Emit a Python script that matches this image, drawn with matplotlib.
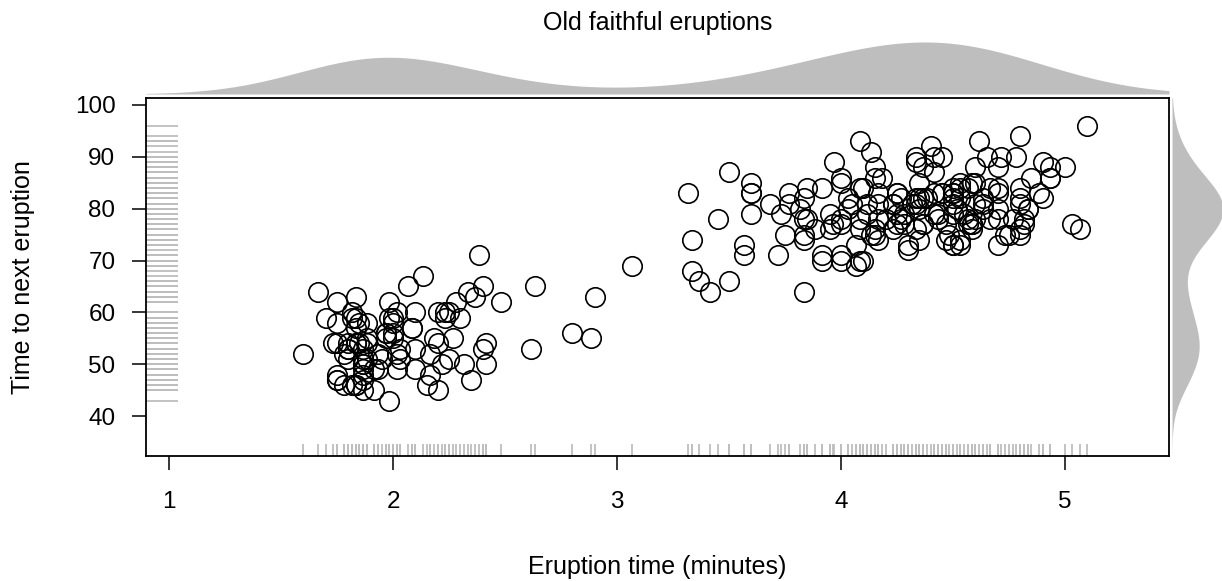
import numpy as np
import matplotlib
matplotlib.use("Agg")
import matplotlib.pyplot as plt

# Old Faithful: eruption length (min) and waiting time to next eruption (min)
eruptions = [
    3.600, 1.800, 3.333, 2.283, 4.533, 2.883, 4.700, 3.600, 1.950, 4.350,
    1.833, 3.917, 4.200, 1.750, 4.700, 2.167, 1.750, 4.800, 1.600, 4.250,
    1.800, 1.750, 3.450, 3.067, 4.533, 3.600, 1.967, 4.083, 3.850, 4.433,
    4.300, 4.467, 3.367, 4.033, 3.833, 2.017, 1.867, 4.833, 1.833, 4.783,
    4.350, 1.883, 4.567, 1.750, 4.533, 3.317, 3.833, 2.100, 4.633, 2.000,
    4.800, 4.716, 1.833, 4.833, 1.733, 4.883, 3.717, 1.667, 4.567, 4.317,
    2.233, 4.500, 1.750, 4.800, 1.817, 4.400, 4.167, 4.700, 2.067, 4.700,
    4.033, 1.967, 4.500, 4.000, 1.983, 5.067, 2.017, 4.567, 3.883, 3.600,
    4.133, 4.333, 4.100, 2.633, 4.067, 4.933, 3.950, 4.517, 2.167, 4.000,
    2.200, 4.333, 1.867, 4.817, 1.833, 4.300, 4.667, 3.750, 1.867, 4.900,
    2.483, 4.367, 2.100, 4.500, 4.050, 1.867, 4.700, 1.783, 4.850, 3.683,
    4.733, 2.300, 4.900, 4.417, 1.700, 4.633, 2.317, 4.600, 1.817, 4.417,
    2.617, 4.067, 4.250, 1.967, 4.600, 3.767, 1.917, 4.500, 2.267, 4.650,
    1.867, 4.167, 2.800, 4.333, 1.833, 4.383, 1.883, 4.933, 2.033, 3.733,
    4.233, 2.233, 4.533, 4.817, 4.333, 1.983, 4.633, 2.017, 5.100, 1.800,
    5.033, 4.000, 2.400, 4.600, 3.567, 4.000, 4.500, 4.083, 1.800, 3.967,
    2.200, 4.150, 2.000, 3.833, 3.500, 4.583, 2.367, 5.000, 1.933, 4.617,
    1.917, 2.083, 4.583, 3.333, 4.167, 4.333, 4.500, 2.417, 4.000, 4.167,
    1.883, 4.583, 4.250, 3.767, 2.033, 4.433, 4.083, 1.833, 4.417, 2.183,
    4.800, 1.833, 4.800, 4.100, 3.966, 4.233, 3.500, 4.366, 2.250, 4.667,
    2.100, 4.350, 4.133, 1.867, 4.600, 1.783, 4.367, 3.850, 1.933, 4.500,
    2.383, 4.700, 1.867, 3.833, 3.417, 4.233, 2.400, 4.800, 2.000, 4.150,
    1.867, 4.267, 1.750, 4.483, 4.000, 4.117, 4.083, 4.267, 3.917, 4.550,
    4.083, 2.417, 4.183, 2.217, 4.450, 1.883, 1.850, 4.283, 3.950, 2.333,
    4.150, 2.350, 4.933, 2.900, 4.583, 3.833, 2.083, 4.367, 2.133, 4.350,
    2.200, 4.450, 3.567, 4.500, 4.150, 3.817, 3.917, 4.450, 2.000, 4.283,
    4.767, 4.533, 1.850, 4.250, 1.983, 2.250, 4.750, 4.117, 2.150, 4.417,
    1.817, 4.467,
]
waiting = [
    79, 54, 74, 62, 85, 55, 88, 85, 51, 85, 54, 84, 78, 47, 83, 52, 62, 84, 52, 79,
    51, 47, 78, 69, 74, 83, 55, 76, 78, 79, 73, 77, 66, 80, 74, 52, 48, 80, 59, 90,
    80, 58, 84, 58, 73, 83, 64, 53, 82, 59, 75, 90, 54, 80, 54, 83, 71, 64, 77, 81,
    59, 84, 48, 82, 60, 92, 78, 78, 65, 73, 82, 56, 79, 71, 62, 76, 60, 78, 76, 83,
    75, 82, 70, 65, 73, 88, 76, 80, 48, 86, 60, 90, 50, 78, 63, 72, 84, 75, 51, 82,
    62, 88, 49, 83, 81, 47, 84, 52, 86, 81, 75, 59, 89, 79, 59, 81, 50, 85, 59, 87,
    53, 69, 77, 56, 88, 81, 45, 82, 55, 90, 45, 83, 56, 89, 46, 82, 51, 86, 53, 79,
    81, 60, 82, 77, 76, 59, 80, 49, 96, 53, 77, 77, 65, 81, 71, 70, 81, 93, 53, 89,
    45, 86, 58, 78, 66, 76, 63, 88, 52, 93, 49, 57, 77, 68, 81, 81, 73, 50, 85, 74,
    55, 77, 83, 83, 51, 78, 84, 46, 83, 55, 81, 57, 76, 84, 77, 81, 87, 77, 51, 78,
    60, 82, 91, 53, 78, 46, 77, 84, 49, 83, 71, 80, 49, 75, 64, 76, 53, 94, 55, 76,
    50, 82, 54, 75, 78, 79, 78, 78, 70, 79, 70, 54, 86, 50, 90, 54, 54, 77, 79, 64,
    75, 47, 86, 63, 85, 82, 57, 82, 67, 74, 54, 83, 73, 73, 88, 80, 71, 83, 56, 79,
    78, 84, 58, 83, 43, 60, 75, 81, 46, 90, 46, 74,
]
x_ticks = [1, 2, 3, 4, 5]
y_ticks = [40, 50, 60, 70, 80, 90, 100]

erupt = np.array(eruptions)
wait = np.array(waiting, dtype=float)

plt.rcParams['font.family'] = ['Liberation Sans', 'DejaVu Sans']
GREY = '#BEBEBE'
W, H = 1222, 581


def kde(data, grid):
    # gaussian kernel, R's bw.nrd0 rule
    n = len(data)
    q75, q25 = np.percentile(data, [75, 25])
    bw = 0.9 * min(data.std(ddof=1), (q75 - q25) / 1.34) * n ** -0.2
    z = (grid[:, None] - data[None, :]) / bw
    return np.exp(-0.5 * z ** 2).sum(axis=1) / (n * bw * np.sqrt(2 * np.pi))


def rect(x0, y0, x1, y1):
    # pixel box -> figure fraction
    return [x0 / W, 1 - y1 / H, (x1 - x0) / W, (y1 - y0) / H]


fig = plt.figure(figsize=(W / 100, H / 100), dpi=100)
ax = fig.add_axes(rect(146, 98, 1169, 456))
xlim = (0.897, 5.464)
ylim = (32.3, 101.35)

ax.plot(erupt, wait, 'o', mfc='none', mec='black', ms=14, mew=1.2, zorder=3)
ax.hlines(wait, 0, 0.031, transform=ax.get_yaxis_transform(), color=GREY, lw=1.3)
ax.vlines(erupt, 0, 0.034, transform=ax.get_xaxis_transform(), color=GREY, lw=1.3)

ax.set_xlim(xlim)
ax.set_ylim(ylim)
ax.set_xticks(x_ticks)
ax.set_yticks(y_ticks)
for s in ax.spines.values():
    s.set_linewidth(1.3)
ax.tick_params(direction='out', length=10, width=1.1, labelsize=17.5)
ax.tick_params(axis='x', pad=15)
ax.tick_params(axis='y', pad=12)

# marginal density along the top
gx = np.linspace(xlim[0], xlim[1], 500)
dx = kde(erupt, gx)
axt = fig.add_axes(rect(146, 30, 1169, 94))
axt.fill_between(gx, dx, color=GREY, lw=0)
axt.set_xlim(xlim)
axt.set_ylim(0, dx.max() * 64 / 52)
axt.axis('off')

# marginal density on the right
gy = np.linspace(ylim[0], ylim[1], 500)
dy = kde(wait, gy)
axr = fig.add_axes(rect(1172, 98, 1224, 456))
axr.fill_betweenx(gy, dy, color=GREY, lw=0)
axr.set_ylim(ylim)
axr.set_xlim(0, dy.max() * 52 / 51)
axr.axis('off')

fig.text(657.5 / W, 1 - 23 / H, 'Old faithful eruptions', ha='center', va='center', fontsize=18)
fig.text(657.5 / W, 1 - 567 / H, 'Eruption time (minutes)', ha='center', va='center', fontsize=18)
fig.text(23 / W, 1 - 277 / H, 'Time to next eruption', ha='center', va='center',
         rotation=90, fontsize=18)

fig.savefig('out.png', dpi=100)
